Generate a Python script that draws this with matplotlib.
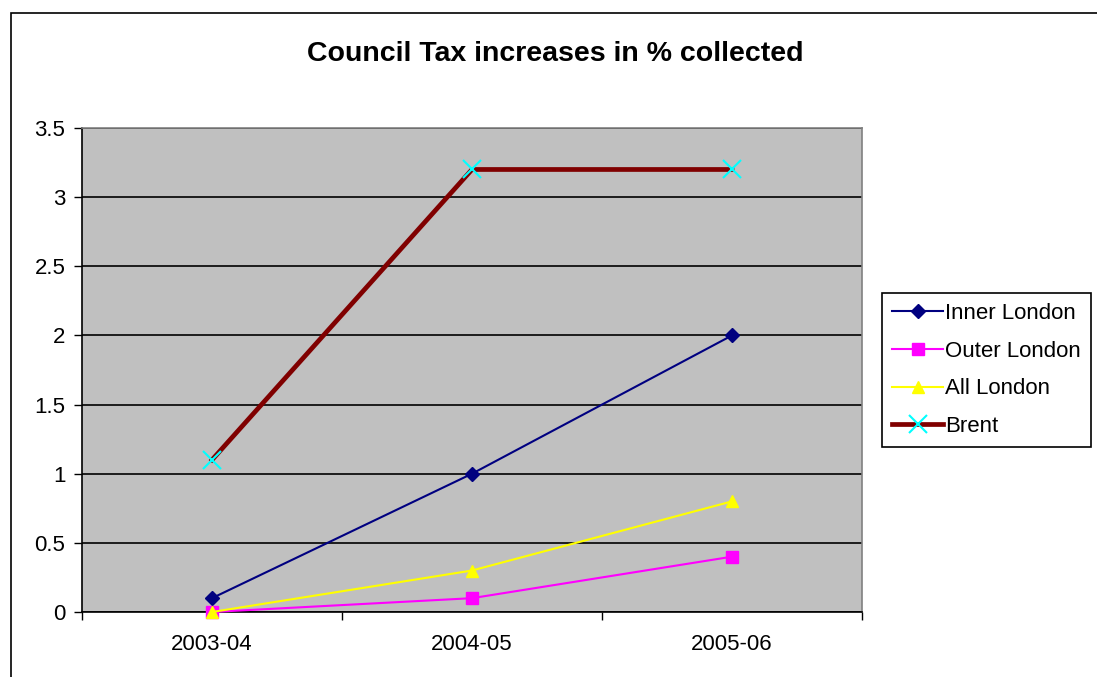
import numpy as np
import matplotlib.pyplot as plt
from matplotlib.patches import Rectangle

plt.rcParams['font.family'] = ['Liberation Sans', 'DejaVu Sans']

# data
years = ['2003-04', '2004-05', '2005-06']
inner_london = [0.1, 1.0, 2.0]
outer_london = [0.0, 0.1, 0.4]
all_london = [0.0, 0.3, 0.8]
brent = [1.1, 3.2, 3.2]
y_ticks = [0, 0.5, 1, 1.5, 2, 2.5, 3, 3.5]

fig = plt.figure(figsize=(10.97, 6.77), dpi=100)

# outer chart frame (runs off the right/bottom edge)
fig.patches.append(Rectangle((11 / 1097, -0.1), 1.2, 1 - 13 / 677 + 0.1,
                             transform=fig.transFigure, fill=False,
                             edgecolor='black', linewidth=1.2))
# cut-off heading above the chart
fig.text(55 / 1097, 1.0 + 12 / 677, 'p', fontsize=16, fontweight='bold', va='baseline')

ax = fig.add_axes([82 / 1097, 1 - 612 / 677, 780 / 1097, 484 / 677])
ax.set_facecolor('#C0C0C0')

x = np.arange(len(years))
ax.plot(x, inner_london, color='#000080', linewidth=1.5, marker='D',
        markersize=7, label='Inner London', clip_on=False, zorder=3)
ax.plot(x, outer_london, color='#FF00FF', linewidth=1.5, marker='s',
        markersize=8, label='Outer London', clip_on=False, zorder=3)
ax.plot(x, all_london, color='#FFFF00', linewidth=1.5, marker='^',
        markersize=9, label='All London', clip_on=False, zorder=3)
ax.plot(x, brent, color='#800000', linewidth=3.4, marker='x',
        markersize=13, markeredgewidth=1.5, markeredgecolor='#00FFFF',
        label='Brent', clip_on=False, zorder=3)

ax.set_xlim(-0.5, len(years) - 0.5)
ax.set_ylim(0, 3.5)
ax.set_yticks(y_ticks)
ax.set_yticklabels(['0', '0.5', '1', '1.5', '2', '2.5', '3', '3.5'])
ax.yaxis.grid(True, color='black', linewidth=1.2)
ax.set_axisbelow(True)

ax.set_xticks(np.arange(-0.5, len(years), 1.0))
ax.set_xticklabels([])
ax.set_xticks(x, minor=True)
ax.set_xticklabels(years, minor=True)
ax.tick_params(axis='x', which='minor', length=0, pad=16, labelsize=16)
ax.tick_params(axis='x', which='major', length=6, direction='out', width=1)
ax.tick_params(axis='y', length=6, direction='out', width=1, labelsize=16, pad=6)

ax.spines['left'].set_color('black')
ax.spines['bottom'].set_color('black')
ax.spines['top'].set_color('#808080')
ax.spines['right'].set_color('#808080')
for s in ax.spines.values():
    s.set_linewidth(1.2)

fig.text(555 / 1097, 1 - 54 / 677, 'Council Tax increases in % collected',
         ha='center', va='center', fontsize=20.5, fontweight='bold')

leg = ax.legend(loc='upper left', bbox_to_anchor=(882 / 1097, 1 - 293 / 677),
                bbox_transform=fig.transFigure, fontsize=16, frameon=True,
                fancybox=False, edgecolor='black', framealpha=1,
                handlelength=2.3, handletextpad=0.1, labelspacing=0.75,
                borderpad=0.45, borderaxespad=0)
leg.get_frame().set_linewidth(1.2)

fig.savefig('out.png', dpi=100)
